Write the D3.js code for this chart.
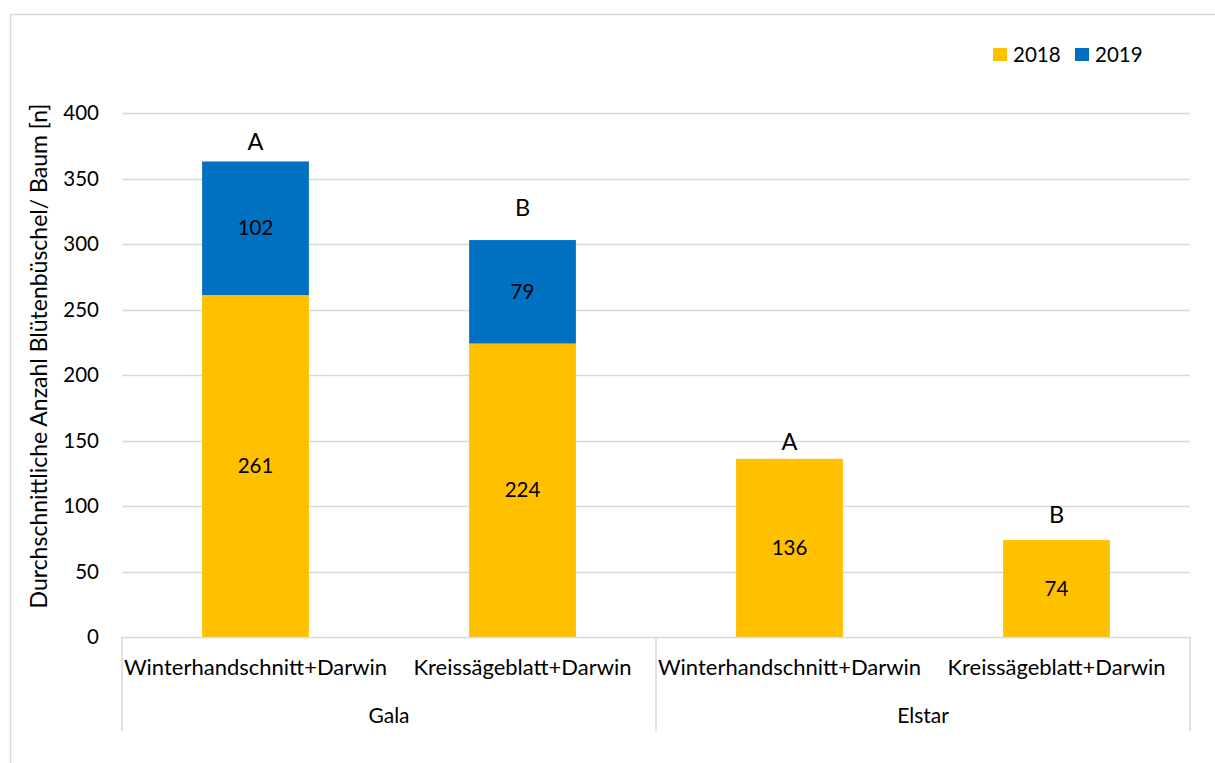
<!DOCTYPE html>
<html>
<head>
<meta charset="utf-8">
<script src="https://cdn.jsdelivr.net/npm/d3@7"></script>
<style>
  body { margin: 0; background: #fff; }
  svg text { font-family: Lato, "Open Sans", sans-serif; fill: #000; }
</style>
</head>
<body>
<svg id="chart" width="1215" height="763"></svg>
<script>
// Average number of flower clusters per tree, by variety and pruning method
const groups = ["Gala", "Elstar"];
const treatments = ["Winterhandschnitt+Darwin", "Kreissägeblatt+Darwin"];
const years = ["2018", "2019"];
const values2018 = [261, 224, 136, 74];
const values2019 = [102, 79, 0, 0];
const letters = ["A", "B", "A", "B"];
const yTicks = [0, 50, 100, 150, 200, 250, 300, 350, 400];
const colors = ["#FFC000", "#0070C0"];

const svg = d3.select("#chart");
const plotLeft = 122, plotRight = 1190, plotTop = 113, plotBottom = 637;

// Outer frame
svg.append("rect").attr("x", 10.5).attr("y", 14.5).attr("width", 1215).attr("height", 800)
  .attr("fill", "none").attr("stroke", "#d9d9d9").attr("stroke-width", 1.5);

const cats = [];
groups.forEach(g => treatments.forEach(t => cats.push(g + "|" + t)));

const x = d3.scaleBand().domain(cats).range([plotLeft, plotRight]).paddingInner(0.6).paddingOuter(0.3);
const xOuter = d3.scaleBand().domain(cats).range([plotLeft, plotRight]);
const y = d3.scaleLinear().domain([0, 400]).range([plotBottom, plotTop]);

// Gridlines
svg.append("g").selectAll("line").data(yTicks.filter(d => d > 0)).join("line")
  .attr("x1", plotLeft).attr("x2", plotRight)
  .attr("y1", d => Math.round(y(d)) + 0.5).attr("y2", d => Math.round(y(d)) + 0.5)
  .attr("stroke", "#d9d9d9").attr("stroke-width", 1.3);

// Y axis labels
const yAxis = d3.axisLeft(y).tickValues(yTicks).tickSize(0).tickPadding(0);
const yg = svg.append("g").attr("transform", `translate(${99},0)`).call(yAxis);
yg.select(".domain").remove();
yg.selectAll("text").attr("font-size", 20.5).attr("font-family", "Lato, sans-serif").attr("fill", "#000");

// Stacked bars
const rows = cats.map((c, i) => ({ key: c, "2018": values2018[i], "2019": values2019[i] }));
const stack = d3.stack().keys(years)(rows);
const layers = svg.append("g").selectAll("g").data(stack).join("g")
  .attr("fill", (d, i) => colors[i]);
layers.selectAll("rect").data(d => d).join("rect")
  .attr("x", d => x(d.data.key))
  .attr("width", x.bandwidth())
  .attr("y", d => y(d[1]))
  .attr("height", d => y(d[0]) - y(d[1]));

// Segment value labels
stack.forEach(layer => {
  svg.append("g").selectAll("text").data(layer.filter(d => d[1] - d[0] > 0)).join("text")
    .attr("x", d => x(d.data.key) + x.bandwidth() / 2)
    .attr("y", d => y((d[0] + d[1]) / 2))
    .attr("dy", "0.35em")
    .attr("text-anchor", "middle")
    .attr("font-size", 20.5)
    .text(d => d[1] - d[0]);
});

// Significance letters, each set a little above its bar
const letterGap = [11, 24, 9, 17];
svg.append("g").selectAll("text").data(rows).join("text")
  .attr("x", d => x(d.key) + x.bandwidth() / 2)
  .attr("y", (d, i) => y(d["2018"] + d["2019"]) - letterGap[i])
  .attr("text-anchor", "middle")
  .attr("font-size", 23.5)
  .text((d, i) => letters[i]);

// Category axis baseline and group separators
svg.append("line").attr("x1", plotLeft).attr("x2", plotRight).attr("y1", plotBottom + 0.5).attr("y2", plotBottom + 0.5)
  .attr("stroke", "#d9d9d9").attr("stroke-width", 1.5);
const seps = [cats[0], cats[2]].map(c => xOuter(c)).concat([plotRight]);
svg.append("g").selectAll("line").data(seps).join("line")
  .attr("x1", d => d).attr("x2", d => d)
  .attr("y1", plotBottom).attr("y2", 731)
  .attr("stroke", "#d9d9d9").attr("stroke-width", 1.5);

// Treatment labels
svg.append("g").selectAll("text").data(cats).join("text")
  .attr("x", d => xOuter(d) + xOuter.bandwidth() / 2)
  .attr("y", 675)
  .attr("text-anchor", "middle")
  .attr("font-size", 22)
  .text(d => d.split("|")[1]);

// Variety labels
svg.append("g").selectAll("text").data(groups).join("text")
  .attr("x", (g, i) => (xOuter(cats[i * 2]) + xOuter(cats[i * 2 + 1]) + xOuter.bandwidth()) / 2)
  .attr("y", 723)
  .attr("text-anchor", "middle")
  .attr("font-size", 21)
  .text(d => d);

// Y axis title
svg.append("text")
  .attr("transform", `translate(47,356) rotate(-90)`)
  .attr("text-anchor", "middle")
  .attr("font-size", 23)
  .text("Durchschnittliche Anzahl Blütenbüschel/ Baum [n]");

// Legend
const legend = svg.append("g").selectAll("g").data(years).join("g")
  .attr("transform", (d, i) => `translate(${993 + i * 82},48)`);
legend.append("rect").attr("width", 14).attr("height", 13).attr("fill", (d, i) => colors[i]);
legend.append("text").attr("x", 20).attr("y", 13.5).attr("font-size", 20.5).text(d => d);
</script>
</body>
</html>
